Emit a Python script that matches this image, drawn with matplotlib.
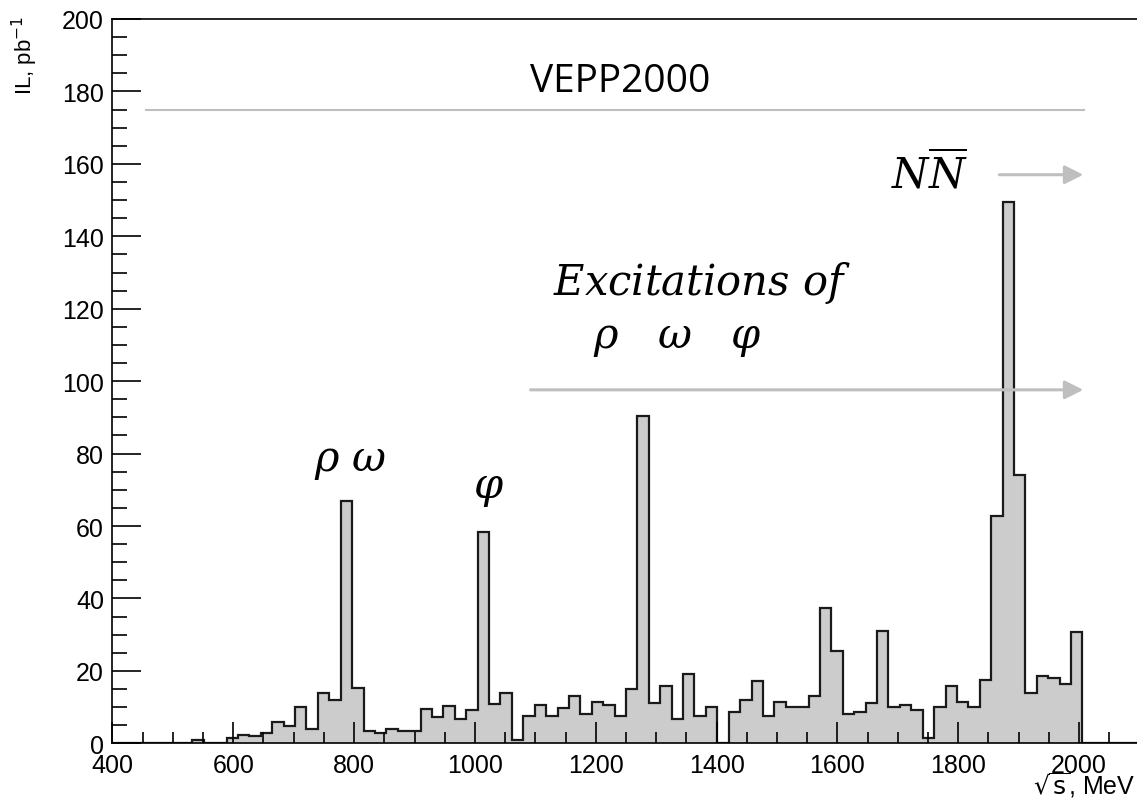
import numpy as np
import matplotlib
matplotlib.use("Agg")
from matplotlib import pyplot as plt

plt.rcParams['font.family'] = ['Liberation Sans', 'DejaVu Sans']

# histogram: 90 bins from 400 to 2100 MeV
x_min, x_max, n_bins = 400, 2100, 90
lumi = [0, 0, 0, 0, 0, 0, 0, 1.0, 0, 0,
        1.4, 2.4, 2.0, 2.8, 5.8, 4.9, 10.1, 3.9, 13.9, 12.0,
        67.0, 15.3, 3.3, 2.8, 3.9, 3.3, 3.3, 9.5, 7.3, 10.4,
        6.7, 9.2, 58.4, 10.9, 13.8, 0.9, 7.6, 10.5, 7.6, 9.7,
        13.0, 8.1, 11.4, 10.6, 7.6, 15.0, 90.5, 11.1, 15.7, 6.7,
        19.1, 7.6, 10.0, 0, 8.6, 12.0, 17.2, 7.6, 11.4, 10.0,
        10.0, 13.1, 37.3, 25.4, 8.1, 8.6, 11.1, 31.1, 10.0, 10.6,
        9.3, 1.4, 10.0, 15.9, 11.5, 10.0, 17.5, 62.7, 149.4, 74.2,
        13.8, 18.7, 17.9, 16.4, 30.6, 0, 0, 0, 0, 0]

x_ticks = [400, 600, 800, 1000, 1200, 1400, 1600, 1800, 2000]
y_ticks = list(range(0, 201, 20))

# annotation lines (energy from, energy to, value)
vepp_line = (455, 2008, 175)
nn_arrow = (1868, 2007, 157)
exc_arrow = (1092, 2007, 97.6)

edges = np.linspace(x_min, x_max, n_bins + 1)

fig = plt.figure(figsize=(11.37, 8.03), dpi=100)
ax = fig.add_axes([0.0989, 0.0731, 0.9033, 0.902])

ax.stairs(lumi, edges, fill=True, facecolor='#cccccc', edgecolor='none')
ax.stairs(lumi, edges, fill=False, color='#1a1a1a', linewidth=1.6, baseline=0)

ax.set_xlim(x_min, x_max)
ax.set_ylim(0, 200)
ax.set_xticks(x_ticks)
ax.set_xticks(np.arange(400, 2101, 50), minor=True)
ax.set_yticks(y_ticks)
ax.set_yticks(np.arange(0, 201, 5), minor=True)
ax.tick_params(axis='both', which='both', direction='in', width=1.2, labelsize=18)
ax.tick_params(axis='x', which='major', length=15, pad=7)
ax.tick_params(axis='x', which='minor', length=8)
ax.tick_params(axis='y', which='major', length=21, pad=6)
ax.tick_params(axis='y', which='minor', length=11)
for s in ax.spines.values():
    s.set_linewidth(1.2)
ax.spines['right'].set_visible(False)

fig.text(25 / 1137, 1 - 16 / 803, r'IL, pb$^{-1}$', rotation=90, ha='center', va='top', fontsize=16)
fig.text(1135 / 1137, 3 / 803, r'$\sqrt{\mathrm{s}}$, MeV', ha='right', va='bottom', fontsize=18,
         math_fontfamily='dejavusans')

# annotations
grey = '#bfbfbf'
ax.plot([vepp_line[0], vepp_line[1]], [vepp_line[2], vepp_line[2]], color=grey, lw=1.5)
for a in (nn_arrow, exc_arrow):
    ax.annotate('', xy=(a[1], a[2]), xytext=(a[0], a[2]),
                arrowprops=dict(arrowstyle='-|>', color=grey, lw=2.2, mutation_scale=28,
                                shrinkA=0, shrinkB=0))

ax.text(1240, 183, 'VEPP2000', fontsize=28, family='Open Sans', ha='center', va='center')
mfont = 'dejavuserif'
ax.text(794, 78, r'$\rho\ \omega$', fontsize=30, ha='center', va='center', math_fontfamily=mfont)
ax.text(1022, 70.5, r'$\varphi$', fontsize=30, ha='center', va='center', math_fontfamily=mfont)
ax.text(1375, 127.5, r'$Excitations\ of$', fontsize=30, ha='center', va='center', math_fontfamily=mfont)
ax.text(1335, 112, r'$\rho\ \ \ \omega\ \ \ \varphi$', fontsize=30, ha='center', va='center',
        math_fontfamily=mfont)
ax.text(1753, 157.5, r'$N\overline{N}$', fontsize=30, ha='center', va='center', math_fontfamily=mfont)

fig.savefig('out.png', dpi=100)
